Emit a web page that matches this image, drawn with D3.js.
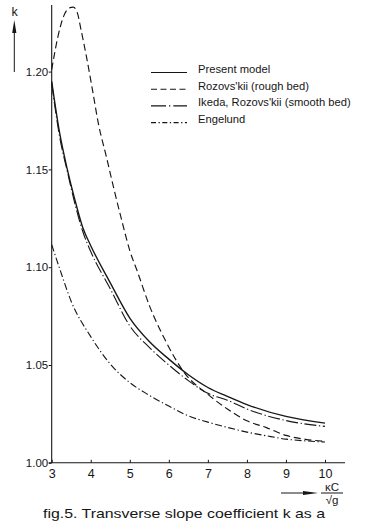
<!DOCTYPE html>
<html>
<head>
<meta charset="utf-8">
<script src="https://cdn.jsdelivr.net/npm/d3@7"></script>
<style>
  html, body { margin: 0; padding: 0; background: #fff; }
  svg { display: block; font-family: "Liberation Sans", Arial, sans-serif; }
</style>
</head>
<body>
<svg id="chart" width="376" height="522"></svg>
<script>
// Transverse slope coefficient k against κC/√g, one pair of arrays per curve
const presentX = [3.0, 3.2, 3.4, 3.6, 3.8, 4.0, 4.5, 5.0, 5.5, 6.0, 6.5, 7.0, 7.5, 8.0, 9.0, 10.0];
const presentK = [1.195, 1.169, 1.150, 1.134, 1.120, 1.111, 1.092, 1.074, 1.062, 1.053, 1.045, 1.0385, 1.034, 1.0298, 1.0237, 1.0203];

const roughX = [3.0, 3.15, 3.3, 3.45, 3.55, 3.65, 3.75, 3.9, 4.05, 4.2, 4.4, 4.6, 4.8, 5.0, 5.2, 5.5, 5.9, 6.4, 7.0, 7.5, 8.0, 8.5, 9.0, 9.5, 10.0];
const roughK = [1.201, 1.217, 1.228, 1.2325, 1.233, 1.2305, 1.2215, 1.2066, 1.190, 1.173, 1.1565, 1.1395, 1.1235, 1.1085, 1.0975, 1.0805, 1.063, 1.046, 1.035, 1.0275, 1.0215, 1.018, 1.014, 1.012, 1.011];

const smoothX = [3.0, 3.2, 3.4, 3.6, 3.8, 4.0, 4.5, 5.0, 5.5, 6.0, 6.5, 7.0, 7.5, 8.0, 9.0, 10.0];
const smoothK = [1.194, 1.167, 1.149, 1.132, 1.118, 1.108, 1.089, 1.070, 1.059, 1.050, 1.042, 1.0355, 1.032, 1.0275, 1.0216, 1.0186];

const engelundX = [3.0, 3.2, 3.5, 4.0, 4.5, 5.0, 5.5, 6.0, 6.5, 7.0, 7.5, 8.0, 8.5, 9.0, 9.5, 10.0];
const engelundK = [1.1115, 1.0995, 1.0825, 1.0645, 1.0505, 1.041, 1.0345, 1.029, 1.024, 1.0208, 1.0181, 1.0157, 1.0138, 1.0121, 1.0112, 1.0106];

const seriesNames = ["Present model", "Rozovs'kii (rough bed)", "Ikeda, Rozovs'kii (smooth bed)", "Engelund"];

const xTicks = [3, 4, 5, 6, 7, 8, 9, 10];
const yTicks = [1.00, 1.05, 1.10, 1.15, 1.20];
const yTickLabels = ["1.00", "1.05", "1.10", "1.15", "1.20"];

const captionText = "fig.5. Transverse slope coefficient k as a";

// ---- layout ----
const ink = "#161616";
const svg = d3.select("#chart");

const x = d3.scaleLinear().domain([3, 10]).range([51.7, 325]);
const y = d3.scaleLinear().domain([1.00, 1.20]).range([462.8, 71.6]);
const axisTop = 5;      // top end of the k axis, px
const axisRight = 345;  // right end of the κC/√g axis, px

// series styles
const styles = [
  { width: 1.35, dash: null,              legendDash: null },
  { width: 1.15, dash: "7,3.8",           legendDash: "6,3.5" },
  { width: 1.1,  dash: "12,2.6,1.3,2.6",  legendDash: "15,3,1.3,3" },
  { width: 1.1,  dash: "7,2.6,1.3,2.6",   legendDash: "5,2.5,1.3,2.5" }
];
const seriesX = [presentX, roughX, smoothX, engelundX];
const seriesK = [presentK, roughK, smoothK, engelundK];

// ---- axes ----
const gx = svg.append("g").attr("transform", `translate(0,${y(1.00)})`)
  .call(d3.axisBottom(x).tickValues(xTicks).tickSize(-3).tickPadding(6.5)
    .tickFormat(d3.format("d")));
gx.select(".domain").remove();
gx.selectAll(".tick line").attr("stroke", ink).attr("stroke-width", 1);
gx.selectAll(".tick text").attr("fill", ink).attr("font-size", 12.5);
gx.append("line")
  .attr("x1", x(3) - 3).attr("x2", axisRight)
  .attr("y1", 0).attr("y2", 0)
  .attr("stroke", ink).attr("stroke-width", 1.1);

const gy = svg.append("g").attr("transform", `translate(${x(3)},0)`)
  .call(d3.axisLeft(y).tickValues(yTicks).tickSize(3).tickPadding(0.5)
    .tickFormat((d, i) => yTickLabels[i]));
gy.select(".domain").remove();
gy.selectAll(".tick line").attr("stroke", ink).attr("stroke-width", 1);
gy.selectAll(".tick text").attr("fill", ink).attr("font-size", 11.5);
gy.append("line")
  .attr("x1", 0).attr("x2", 0)
  .attr("y1", y(1.00)).attr("y2", axisTop)
  .attr("stroke", ink).attr("stroke-width", 1.1);

// ---- curves ----
const line = d3.line()
  .x(d => x(d[0]))
  .y(d => y(d[1]))
  .curve(d3.curveMonotoneX);

seriesX.forEach((xs, i) => {
  const pts = xs.map((v, j) => [v, seriesK[i][j]]);
  svg.append("path")
    .datum(pts)
    .attr("d", line)
    .attr("fill", "none")
    .attr("stroke", ink)
    .attr("stroke-width", styles[i].width)
    .attr("stroke-dasharray", styles[i].dash);
});

// ---- legend ----
const legend = svg.append("g").attr("transform", "translate(151,73)");
seriesNames.forEach((name, i) => {
  const row = legend.append("g").attr("transform", `translate(0,${i * 16.7})`);
  row.append("line")
    .attr("x1", 0).attr("x2", 36).attr("y1", -0.5).attr("y2", -0.5)
    .attr("stroke", ink).attr("stroke-width", 1.1)
    .attr("stroke-dasharray", styles[i].legendDash);
  row.append("text")
    .attr("x", 47).attr("y", 0)
    .attr("font-size", 11.2)
    .attr("fill", ink)
    .text(name);
});

// ---- axis titles ----
// k with an upward arrow
svg.append("text")
  .attr("x", 14.5).attr("y", 16)
  .attr("text-anchor", "middle")
  .attr("font-size", 12.5).attr("fill", ink)
  .text("k");
svg.append("line")
  .attr("x1", 14.3).attr("x2", 14.3).attr("y1", 72).attr("y2", 30)
  .attr("stroke", ink).attr("stroke-width", 1);
svg.append("path")
  .attr("d", "M14.3,20 L12.2,33 L16.4,33 Z")
  .attr("fill", ink);

// κC/√g with a rightward arrow
const arrowY = 493;
svg.append("line")
  .attr("x1", 281).attr("x2", 306).attr("y1", arrowY).attr("y2", arrowY)
  .attr("stroke", ink).attr("stroke-width", 1);
svg.append("path")
  .attr("d", `M318,${arrowY} L303,${arrowY - 2} L303,${arrowY + 2} Z`)
  .attr("fill", ink);
svg.append("text")
  .attr("x", 332).attr("y", 490.5)
  .attr("text-anchor", "middle")
  .attr("font-size", 11.5).attr("fill", ink)
  .text("κC");
svg.append("line")
  .attr("x1", 321).attr("x2", 343).attr("y1", arrowY).attr("y2", arrowY)
  .attr("stroke", ink).attr("stroke-width", 1);
svg.append("text")
  .attr("x", 332).attr("y", 503.5)
  .attr("text-anchor", "middle")
  .attr("font-size", 11.5).attr("fill", ink)
  .text("√g");

// ---- caption ----
svg.append("text")
  .attr("x", 43).attr("y", 517.5)
  .attr("font-size", 13).attr("fill", ink)
  .attr("textLength", 282)
  .attr("lengthAdjust", "spacingAndGlyphs")
  .text(captionText);
</script>
</body>
</html>
